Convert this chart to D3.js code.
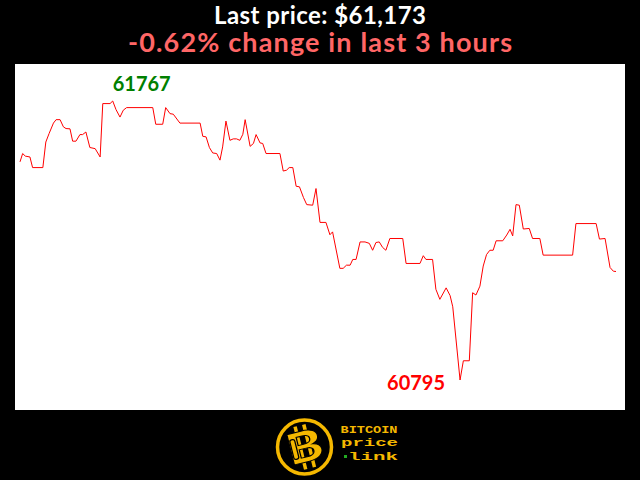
<!DOCTYPE html>
<html>
  <head>
    <title> BTC last 3 hours </title>
    <script src="https://d3js.org/d3.v7.min.js"></script>
    <style>
      body { margin: 0; background: #000; }
      svg { display: block; }
    </style>
  </head>
  <body>
  <svg width="640" height="480"></svg>
  <script>

    // minutes since start of the 3 hour window
    var minutes = [0, 0.8, 1.6, 3.0, 3.8, 6.9, 7.8, 8.8, 10.1, 10.9, 12.1, 13.1, 13.9, 15.1, 15.9, 16.9,
      18.1, 18.9, 19.9, 21.1, 22.7, 24.2, 25.0, 27.2, 28.0, 29.0, 30.2, 31.2, 32.2, 40.1, 41.0, 43.1,
      44.0, 45.3, 46.3, 48.3, 54.4, 55.2, 56.2, 57.2, 58.2, 59.4, 60.4, 61.2, 62.2, 63.4, 64.4, 65.4,
      66.4, 67.3, 68.0, 69.5, 70.5, 71.3, 72.5, 73.3, 74.3, 78.5, 79.5, 80.5, 81.3, 82.4, 83.4, 84.4,
      85.6, 86.6, 88.4, 89.4, 90.6, 92.4, 93.6, 94.4, 96.6, 97.6, 98.6, 99.7, 100.5, 101.5, 102.7, 104.2,
      105.5, 106.5, 107.5, 108.5, 109.5, 110.5, 111.7, 115.6, 116.6, 120.8, 121.8, 122.6, 124.6, 125.6, 126.8, 128.7,
      129.9, 130.7, 132.9, 133.9, 135.7, 136.7, 137.7, 138.9, 139.9, 140.9, 141.9, 142.9, 143.8, 145.8, 147.0, 148.0,
      148.8, 149.8, 150.8, 152.0, 153.8, 154.8, 157.0, 158.0, 166.9, 167.9, 174.0, 175.0, 176.7, 178.2, 179.2, 180];

    // BTC price in USD
    var prices = [61555, 61584, 61575, 61572, 61535, 61535, 61624, 61654, 61690, 61702, 61702, 61677, 61671, 61670, 61627, 61627,
      61650, 61650, 61659, 61605, 61601, 61572, 61758, 61758, 61767, 61737, 61711, 61735, 61744, 61744, 61686, 61686,
      61744, 61723, 61721, 61690, 61690, 61644, 61642, 61605, 61586, 61584, 61561, 61607, 61697, 61630, 61635, 61635,
      61630, 61651, 61702, 61609, 61619, 61650, 61621, 61619, 61584, 61584, 61523, 61526, 61535, 61535, 61470, 61468,
      61431, 61406, 61404, 61462, 61344, 61344, 61301, 61311, 61184, 61184, 61195, 61195, 61215, 61215, 61276, 61276,
      61271, 61247, 61274, 61276, 61257, 61247, 61288, 61288, 61201, 61201, 61228, 61215, 61215, 61111, 61076, 61116,
      61089, 61050, 60795, 60862, 60862, 61099, 61091, 61122, 61192, 61232, 61247, 61247, 61280, 61280, 61300, 61320,
      61297, 61406, 61404, 61321, 61323, 61288, 61288, 61230, 61230, 61340, 61340, 61286, 61288, 61187, 61174, 61173];

    var lastPrice = "$61,173";
    var changeText = "-0.62% change in last 3 hours";

    var svg = d3.select("svg");

    var data = minutes.map(function(m, i) { return { t: m, p: prices[i] }; });

    //scales
    var x = d3.scaleLinear().domain([0, 180]).range([20, 616]);
    var y = d3.scaleLinear().domain(d3.extent(prices)).range([380, 101]);

    svg.append("rect")
      .attr("width", 640).attr("height", 480).attr("fill", "#000");

    //white plot panel
    svg.append("rect")
      .attr("x", 15).attr("y", 64)
      .attr("width", 610).attr("height", 346)
      .attr("fill", "#fff");

    //titles
    svg.append("text")
      .attr("x", 320).attr("y", 24)
      .attr("text-anchor", "middle")
      .attr("font-family", "Lato")
      .attr("font-weight", "bold")
      .attr("font-size", "24px")
      .attr("textLength", 212)
      .attr("fill", "#fff")
      .text("Last price: " + lastPrice);

    svg.append("text")
      .attr("x", 320).attr("y", 52)
      .attr("text-anchor", "middle")
      .attr("font-family", "Lato")
      .attr("font-weight", "bold")
      .attr("font-size", "27px")
      .attr("textLength", 384)
      .attr("fill", "#ff6666")
      .text(changeText);

    //price line
    var line = d3.line()
      .x(function(d) { return x(d.t); })
      .y(function(d) { return y(d.p); });

    svg.append("path")
      .datum(data)
      .attr("d", line)
      .attr("fill", "none")
      .attr("stroke", "#ff0000")
      .attr("stroke-width", 1);

    //max / min labels
    var maxD = data.reduce(function(a, b) { return b.p > a.p ? b : a; });
    var minD = data.reduce(function(a, b) { return b.p < a.p ? b : a; });

    svg.append("text")
      .attr("x", x(maxD.t)).attr("y", y(maxD.p) - 10)
      .attr("font-family", "Lato")
      .attr("font-weight", "bold")
      .attr("font-size", "20px")
      .attr("fill", "#008000")
      .text(maxD.p);

    svg.append("text")
      .attr("x", x(minD.t) - 15).attr("y", y(minD.p) + 10)
      .attr("text-anchor", "end")
      .attr("font-family", "Lato")
      .attr("font-weight", "bold")
      .attr("font-size", "20px")
      .attr("fill", "#ff0000")
      .text(minD.p);

    //logo
    var gold = "#f5b800";
    var logo = svg.append("g").attr("transform", "translate(304.5,447)");
    logo.append("circle").attr("r", 27).attr("fill", "#000")
      .attr("stroke", gold).attr("stroke-width", 3.5);
    var b = logo.append("g").attr("transform", "rotate(-14)");
    b.selectAll(".tick").data([-6, 3]).enter().append("rect")
      .attr("x", function(d) { return d; }).attr("y", -22)
      .attr("width", 3.5).attr("height", 44).attr("fill", gold);
    b.append("text")
      .attr("x", 0).attr("y", 15)
      .attr("text-anchor", "middle")
      .attr("transform", "scale(1.3,1)")
      .attr("font-family", "Lato")
      .attr("font-weight", "900")
      .attr("font-size", "43px")
      .attr("fill", gold)
      .attr("stroke", "#000").attr("stroke-width", 1)
      .text("B");
    b.append("rect").attr("x", -13).attr("y", -10).attr("width", 5).attr("height", 20)
      .attr("rx", 2).attr("fill", "none").attr("stroke", "#000").attr("stroke-width", 1.3);

    var words = [["BITCOIN", 340.5, 433, 57], ["price", 341, 446, 57], ["link", 348, 460, 50]];
    svg.selectAll(".brand").data(words).enter().append("text")
      .attr("x", function(d) { return d[1]; })
      .attr("y", function(d) { return d[2]; })
      .attr("textLength", function(d) { return d[3]; })
      .attr("lengthAdjust", "spacingAndGlyphs")
      .attr("font-family", "Liberation Mono")
      .attr("font-weight", "bold")
      .attr("font-size", "11px")
      .attr("fill", gold)
      .text(function(d) { return d[0]; });
    svg.append("rect").attr("x", 344).attr("y", 455).attr("width", 3).attr("height", 3).attr("fill", "#22aa22");

  </script>
  </body>
</html>
